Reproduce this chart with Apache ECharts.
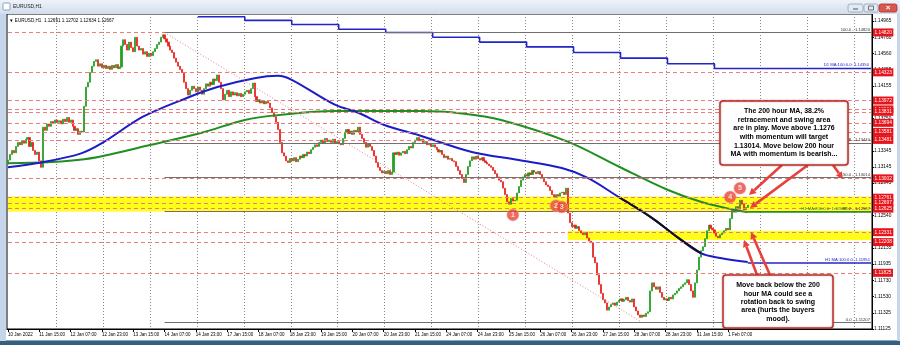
<!DOCTYPE html>
<html><head><meta charset="utf-8">
<script src="https://cdn.jsdelivr.net/npm/echarts@6.0.0/dist/echarts.min.js"></script>
<style>html,body{margin:0;padding:0;background:#fff}#c{width:900px;height:345px}</style>
</head><body><div id="c"></div>
<script>
// ---- DATA ----
const firstOpen = 1.1318;
const closes = [
1.1323,1.1330,1.1335,1.1332,1.1340,1.1345,1.1342,1.1347,1.1344,1.1349,1.1351,
1.1340,1.1345,1.1335,1.1330,1.1333,1.1322,1.1314,
1.1364,
1.1360,1.1368,1.1365,1.1371,1.1369,1.1373,1.1370,1.1372,1.1368,1.1374,1.1371,1.1376,1.1370,1.1373,
1.1365,1.1360,1.1362,1.1355,1.1359,1.1358,
1.1390,1.1414,1.1420,1.1432,1.1440,1.1446,
1.1448,1.1440,1.1443,1.1438,1.1441,1.1437,1.1440,1.1436,1.1441,1.1438,1.1442,1.1437,1.1439,
1.1465,1.1473,
1.1467,1.1460,1.1470,1.1463,1.1458,1.1476,1.1465,1.1460,1.1462,1.1455,1.1458,1.1452,
1.1456,1.1453,1.1458,1.1462,1.1467,1.1470,1.1476,1.1479,
1.1474,1.1470,1.1465,1.1460,1.1457,1.1450,1.1445,1.1440,1.1436,1.1432,1.1420,1.1412,1.1404,
1.1410,1.1415,1.1412,1.1408,1.1414,1.1410,1.1405,1.1412,1.1418,1.1415,1.1420,1.1417,1.1424,1.1422,1.1429,
1.1420,1.1412,1.1398,1.1405,1.1410,1.1402,1.1408,1.1404,1.1407,1.1403,1.1406,1.1402,1.1405,1.1408,1.1410,1.1406,1.1412,
1.1419,1.1402,
1.1396,1.1398,1.1394,1.1397,1.1393,1.1396,1.1394,
1.1388,1.1382,1.1377,1.1370,1.1361,1.1345,1.1332,1.1328,1.1322,1.1320,
1.1325,1.1322,1.1326,1.1321,1.1324,1.1328,1.1326,1.1330,1.1328,1.1333,1.1331,1.1336,1.1339,
1.1342,1.1340,1.1345,1.1348,1.1344,1.1350,1.1346,1.1348,1.1345,1.1349,1.1344,1.1346,1.1343,1.1342,
1.1350,1.1358,1.1361,1.1356,1.1359,1.1355,1.1360,1.1358,1.1364,
1.1355,1.1350,1.1345,1.1339,1.1343,1.1340,1.1335,1.1328,1.1320,1.1314,1.1310,1.1307,
1.1309,1.1306,1.1310,1.1305,1.1308,
1.1332,1.1330,1.1333,1.1329,1.1332,1.1334,1.1331,1.1336,1.1340,1.1338,1.1345,1.1348,
1.1351,1.1347,1.1349,1.1345,1.1346,1.1342,1.1344,1.1340,1.1342,1.1339,
1.1336,1.1333,1.1335,1.1330,1.1326,1.1328,1.1324,1.1325,1.1322,1.1321,
1.1315,1.1310,1.1305,1.1300,1.1295,
1.1305,1.1315,1.1322,1.1327,1.1324,1.1328,1.1325,1.1323,1.1326,
1.1322,1.1320,1.1318,1.1316,1.1314,1.1310,1.1306,1.1302,1.1298,1.1296,1.1288,1.1280,1.1271,
1.1268,1.1275,1.1272,1.1273,1.1282,1.1290,1.1298,
1.1302,1.1305,1.1303,1.1307,1.1305,1.1310,1.1308,1.1306,1.1309,1.1305,
1.1300,1.1296,1.1292,1.1290,1.1285,1.1280,1.1277,1.1280,1.1278,1.1282,1.1283,1.1280,1.1288,
1.1257,1.1245,1.1240,1.1242,1.1238,1.1240,1.1235,1.1232,1.1230,1.1233,1.1226,1.1222,1.1220,1.1202,
1.1195,1.1180,1.1168,1.1157,1.1149,1.1145,1.1136,1.1140,1.1143,1.1145,
1.1142,1.1146,1.1148,1.1150,1.1147,1.1149,1.1152,1.1148,1.1146,1.1150,1.1140,1.1135,1.1130,1.1127,
1.1130,1.1128,1.1132,1.1134,1.1160,1.1170,
1.1165,1.1162,1.1165,1.1158,1.1152,1.1149,1.1150,1.1148,1.1152,1.1150,1.1155,
1.1157,1.1160,1.1163,1.1165,1.1168,1.1170,1.1174,1.1168,1.1160,1.1152,
1.1170,1.1186,1.1202,1.1210,1.1215,1.1225,1.1235,1.1242,
1.1238,1.1236,1.1232,1.1228,1.1226,1.1230,1.1232,1.1235,1.1238,1.1236,
1.1250,1.1261,1.1258,1.1265,1.1262,1.1273,1.1268,1.1261,1.1264,1.1267
];
const totalBars = 442;
// 100-hour MA (blue), sampled points [bar, value]
const ma100 = [[0,1.1314],[17,1.1320],[37,1.1331],[48,1.1344],[69,1.1377],[92,1.1401],[107,1.1414],[126,1.1425],[138,1.1428],[145,1.1423],[167,1.1392],[179,1.1382],[192,1.1367],[210,1.1354],[237,1.1333],[261,1.1323],[283,1.1313],[296,1.1301],[312,1.1277],[329,1.1251],[342,1.1227],[354,1.1207],[364,1.1201],[378,1.1196]];
// 200-hour MA (green)
const ma200 = [[0,1.1319],[39,1.1324],[73,1.1342],[99,1.1357],[121,1.1373],[138,1.1379],[167,1.1384],[211,1.1384],[232,1.1381],[252,1.1373],[286,1.1346],[312,1.1315],[337,1.1286],[354,1.1271],[371,1.1261],[378,1.1258]];
// black overlay segment
const blackSeg = [[312,1.1277],[329,1.1251],[342,1.1227],[354,1.1207]];
// daily 100 MA (step)
const d1ma = [[97,1.15015],[121,1.1497],[145,1.1492],[169,1.1486],[193,1.1482],[217,1.1476],[241,1.1470],[265,1.1464],[289,1.1457],[313,1.1450],[337,1.1443],[361,1.1437],[441,1.1437]];
const timeLabels = ['10 Jan 2022','11 Jan 15:00','12 Jan 07:00','12 Jan 23:00','13 Jan 15:00','14 Jan 07:00','14 Jan 23:00','17 Jan 15:00','18 Jan 07:00','18 Jan 23:00','19 Jan 15:00','20 Jan 07:00','20 Jan 23:00','21 Jan 15:00','24 Jan 07:00','24 Jan 23:00','25 Jan 15:00','26 Jan 07:00','26 Jan 23:00','27 Jan 15:00','28 Jan 07:00','28 Jan 23:00','31 Jan 15:00','1 Feb 07:00'];
const priceTicks = [1.11125,1.11325,1.11530,1.11730,1.11935,1.12135,1.12335,1.12540,1.12745,1.12945,1.13145,1.13345,1.13545,1.13750,1.13950,1.14155,1.14355,1.14560,1.14760,1.14965];
const redLevels = [1.14820,1.14323,1.13972,1.13861,1.13831,1.13694,1.13581,1.13481,1.13002,1.12761,1.12697,1.12625,1.12331,1.12208,1.11825];
const fibLevels = [[100.0,1.14820],[61.8,1.13440],[50.0,1.13014],[38.2,1.12587],[0.0,1.11207]];
const fibStartBar = 80, fibLowBar = 324;
const bandUpper = [1.12588,1.12775], bandLower = [1.12235,1.12347], bandLowerStart = 286;
const ma100Last = 1.11951, ma200Last = 1.12587, d1Last = 1.14350;
const circles = [[258,1.12547,'1'],[280,1.12660,'2'],[283,1.12646,'3'],[369,1.12770,'4'],[374,1.12880,'5']];
const header = ['1.12651','1.12702','1.12634','1.12667'];
const note1 = ['The 200 hour MA, 38.2%','retracement and swing area','are in play. Move above 1.1276','with momentum will target','1.13014. Move below 200 hour','MA with momentum is bearish...'];
const note2 = ['Move back below the 200','hour MA could see a','rotation back to swing','area (hurts the buyers','mood).'];

// ---- BUILD ----
const cats = Array.from({length: totalBars}, (_, i) => String(i));
const candles = closes.map((c, i) => {
  const o = i === 0 ? firstOpen : closes[i - 1];
  return [o, c, Math.min(o, c), Math.max(o, c)];
});
const first = cats[0], last = cats[totalBars - 1];
const RED = '#e8403a';
const tiny = {fontSize: 4.2, fontFamily: 'Liberation Sans'};
const HIDDEN = {color: 'rgba(0,0,0,0)', width: 0.1};

const markLines = [];
redLevels.forEach(v => markLines.push([
  {coord: [first, v], lineStyle: {color: '#ee7b7b', type: [4, 3], width: 1},
   label: {show: true, position: 'end', distance: 2, formatter: v.toFixed(5), backgroundColor: '#e8141b', color: '#fff', fontSize: 4.8, padding: [1.5, 1.5], fontFamily: 'Liberation Sans'}},
  {coord: [last, v]}
]));
fibLevels.forEach(([lv, v]) => markLines.push([
  {coord: [cats[fibStartBar], v], lineStyle: {color: '#707070', type: 'solid', width: 1},
   label: Object.assign({show: true, position: 'insideEndTop', distance: 1, formatter: lv.toFixed(1) + ' - ' + v.toFixed(5), color: '#333'}, tiny)},
  {coord: [last, v]}
]));
markLines.push([
  {coord: [cats[fibStartBar], fibLevels[0][1]], lineStyle: {color: '#e08080', type: [1, 2], width: 1}, label: {show: false}},
  {coord: [cats[fibLowBar], fibLevels[4][1]]}
]);
markLines.push([
  {coord: [cats[378], ma100Last], lineStyle: {color: '#2424c8', type: 'solid', width: 1.5},
   label: Object.assign({show: true, position: 'insideEndTop', distance: 1, formatter: 'H1 MA:100:0.0: ' + ma100Last.toFixed(5), color: '#2424c8'}, tiny)},
  {coord: [last, ma100Last]}
]);
markLines.push([
  {coord: [cats[378], ma200Last], lineStyle: {color: '#1f8f1f', type: 'solid', width: 1.5}, label: {show: false}},
  {coord: [last, ma200Last]}
]);
markLines.push([
  {coord: [cats[378], ma200Last], lineStyle: HIDDEN,
   label: Object.assign({show: true, position: 'insideEndTop', distance: 1, formatter: 'H1 MA:200:0.0: ' + ma200Last.toFixed(5), color: '#1f8f1f'}, tiny)},
  {coord: [cats[429], ma200Last]}
]);
markLines.push([
  {coord: [cats[361], 1.1437], lineStyle: HIDDEN,
   label: Object.assign({show: true, position: 'insideEndTop', distance: 2, formatter: 'D1 MA:100:0.0: ' + d1Last.toFixed(5), color: '#2424c8'}, tiny)},
  {coord: [last, 1.1437]}
]);

function arrow(x1, y1, x2, y2) {
  const a = Math.atan2(y2 - y1, x2 - x1), L = 7, W = 3.6;
  const bx = x2 - L * Math.cos(a), by = y2 - L * Math.sin(a);
  return [
    {type: 'line', z: 200, shape: {x1, y1, x2: bx, y2: by}, style: {stroke: RED, lineWidth: 2.6}},
    {type: 'polygon', z: 200, shape: {points: [[x2, y2], [bx + W * Math.sin(a), by - W * Math.cos(a)], [bx - W * Math.sin(a), by + W * Math.cos(a)]]}, style: {fill: RED}}
  ];
}

const graphics = [
  // window chrome
  {type: 'rect', z: 300, shape: {x: 0, y: 0, width: 900, height: 14}, style: {fill: new echarts.graphic.LinearGradient(0, 0, 0, 1, [{offset: 0, color: '#eef3f9'}, {offset: 1, color: '#d2dded'}])}},
  {type: 'rect', z: 301, shape: {x: 3, y: 3, width: 7, height: 7, r: 1}, style: {fill: '#fff', stroke: '#6d8fb8', lineWidth: 0.8}},
  {type: 'text', z: 301, style: {text: 'EURUSD,H1', x: 13, y: 7, fontSize: 5, fontFamily: 'Liberation Sans', verticalAlign: 'middle', fill: '#222'}},
  {type: 'rect', z: 301, shape: {x: 848, y: 4, width: 15, height: 8, r: 2}, style: {fill: '#e3eaf3', stroke: '#8ea3bb', lineWidth: 0.8}},
  {type: 'rect', z: 301, shape: {x: 864, y: 4, width: 14, height: 8, r: 2}, style: {fill: '#e3eaf3', stroke: '#8ea3bb', lineWidth: 0.8}},
  {type: 'rect', z: 301, shape: {x: 879, y: 4, width: 18, height: 8, r: 2}, style: {fill: '#d9574c', stroke: '#a8362e', lineWidth: 0.8}},
  {type: 'line', z: 302, shape: {x1: 853, y1: 9, x2: 858, y2: 9}, style: {stroke: '#555', lineWidth: 1}},
  {type: 'rect', z: 302, shape: {x: 868.5, y: 6, width: 5, height: 4}, style: {fill: 'none', stroke: '#555', lineWidth: 0.8}},
  {type: 'text', z: 302, style: {text: '×', x: 888, y: 8, fontSize: 8, fontWeight: 'bold', fill: '#fff', align: 'center', verticalAlign: 'middle'}},
  {type: 'rect', z: 300, shape: {x: 0, y: 14, width: 6, height: 331}, style: {fill: '#c6d6ea'}},
  {type: 'rect', z: 300, shape: {x: 897, y: 14, width: 3, height: 331}, style: {fill: '#c6d6ea'}},
  {type: 'rect', z: 300, shape: {x: 0, y: 341, width: 900, height: 4}, style: {fill: '#34607f'}},
  {type: 'line', z: 300, shape: {x1: 6, y1: 340.5, x2: 897, y2: 340.5}, style: {stroke: '#8aa4c0', lineWidth: 1}},
  // chart header
  {type: 'text', z: 150, style: {text: '▼ EURUSD,H1  ' + header.join(' '), x: 9, y: 21, fontSize: 4.6, fontFamily: 'Liberation Sans', verticalAlign: 'middle', fill: '#000'}},
  // annotation boxes
  {type: 'rect', z: 210, shape: {x: 720, y: 101, width: 128, height: 64, r: 3}, style: {fill: '#fff', stroke: '#c8302a', lineWidth: 1.5, shadowBlur: 2, shadowColor: 'rgba(0,0,0,0.35)'}},
  {type: 'text', z: 211, style: {text: note1.join('\n'), x: 784, y: 107, align: 'center', verticalAlign: 'top', fontSize: 7, lineHeight: 8.6, fontWeight: 'bold', fontFamily: 'Liberation Sans', fill: '#000'}},
  {type: 'rect', z: 210, shape: {x: 723, y: 275, width: 110, height: 53, r: 3}, style: {fill: '#fff', stroke: '#c8302a', lineWidth: 1.5, shadowBlur: 2, shadowColor: 'rgba(0,0,0,0.35)'}},
  {type: 'text', z: 211, style: {text: note2.join('\n'), x: 778, y: 281, align: 'center', verticalAlign: 'top', fontSize: 7, lineHeight: 8.4, fontWeight: 'bold', fontFamily: 'Liberation Sans', fill: '#000'}},
  ...arrow(782, 165, 749, 195),
  ...arrow(808, 165, 750, 208),
  ...arrow(833, 165, 843, 179),
  ...arrow(757, 275, 744, 240),
  ...arrow(770, 275, 751, 232)
];

const chart = echarts.init(document.getElementById('c'), null, {renderer: 'canvas'});
chart.setOption({
  animation: false,
  backgroundColor: '#fff',
  grid: {left: 7, right: 28, top: 14, bottom: 16, show: true, borderColor: '#000', borderWidth: 1, backgroundColor: '#fff'},
  xAxis: {
    type: 'category', data: cats, boundaryGap: true,
    axisLine: {show: true, lineStyle: {color: '#000', width: 1}},
    axisTick: {show: true, alignWithLabel: true, interval: (i) => i % 16 === 0 && i <= 368, length: 3, lineStyle: {color: '#000'}},
    axisLabel: {interval: (i) => i % 16 === 0 && i <= 368, formatter: (v, i) => timeLabels[i / 16] || '', align: 'left', fontSize: 4.5, color: '#000', margin: 3, fontFamily: 'Liberation Sans'},
    splitLine: {show: true, interval: (i) => i % 24 === 1 && i > 1, lineStyle: {color: '#888', type: [1, 2], width: 1}}
  },
  yAxis: {
    type: 'value', position: 'right', min: 1.11125, max: 1.1505, scale: true,
    splitLine: {show: false},
    axisLine: {show: true, lineStyle: {color: '#000', width: 1}},
    axisTick: {show: true, customValues: priceTicks, length: 2, lineStyle: {color: '#000'}},
    axisLabel: {customValues: priceTicks, formatter: (v) => v.toFixed(5), fontSize: 4.8, color: '#000', margin: 2, fontFamily: 'Liberation Sans'}
  },
  series: [
    {
      type: 'candlestick', data: candles, barWidth: 1.6,
      itemStyle: {color: '#22a022', color0: '#e8231e', borderColor: '#22a022', borderColor0: '#e8231e', borderWidth: 0.8},
      markArea: {silent: true, itemStyle: {color: '#ffff1a', opacity: 1},
        data: [
          [{xAxis: first, yAxis: bandUpper[1]}, {xAxis: last, yAxis: bandUpper[0]}],
          [{xAxis: cats[bandLowerStart], yAxis: bandLower[1]}, {xAxis: last, yAxis: bandLower[0]}]
        ]},
      markLine: {silent: true, precision: 5, symbol: ['none', 'none'], animation: false, data: markLines}
    },
    {type: 'line', data: d1ma, step: 'end', showSymbol: false, lineStyle: {color: '#2424c8', width: 1.6}, z: 3},
    {type: 'line', data: ma200, smooth: 0.35, showSymbol: false, lineStyle: {color: '#1f8f1f', width: 2}, z: 3},
    {type: 'line', data: ma100, smooth: 0.35, showSymbol: false, lineStyle: {color: '#1c1cc8', width: 2}, z: 3},
    {type: 'line', data: blackSeg, smooth: 0.35, showSymbol: false, lineStyle: {color: '#111', width: 2}, z: 4},
    {type: 'scatter', data: circles, symbolSize: 12, z: 6,
      itemStyle: {color: '#e8453c', borderColor: '#f6a39c', borderWidth: 0.8},
      label: {show: true, position: 'inside', formatter: (p) => p.data[2], color: '#fff', fontSize: 7, fontWeight: 'bold', fontFamily: 'Liberation Sans'}}
  ],
  graphic: graphics
});
</script></body></html>
